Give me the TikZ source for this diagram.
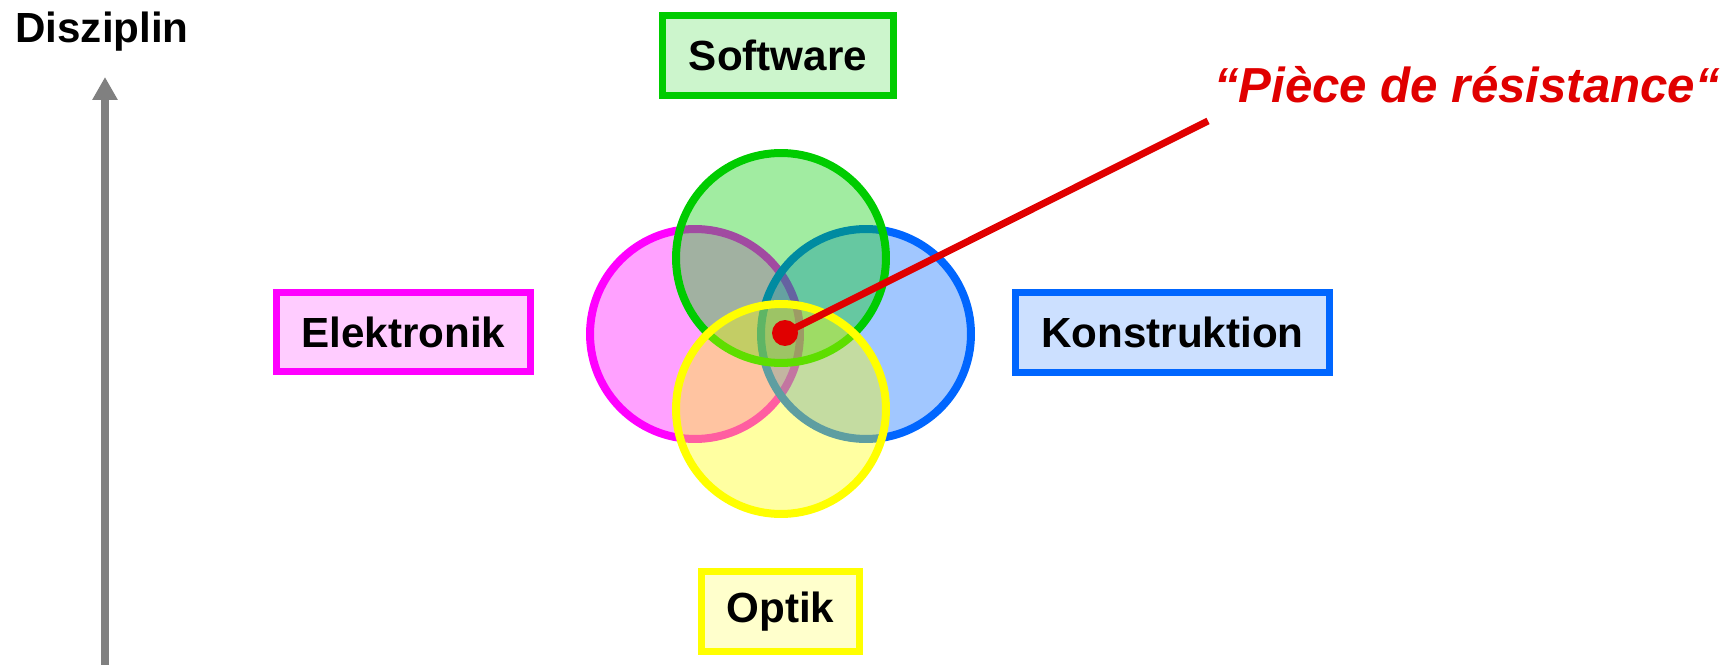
\documentclass[tikz,border=0pt]{standalone}
\usepackage{fontspec}
\setmainfont{Liberation Sans}
\usetikzlibrary{%
  arrows.meta,
  positioning
}

\definecolor{ringmagenta}{HTML}{FF00FF}
\definecolor{ringblue}{HTML}{0066FF}
\definecolor{ringgreen}{HTML}{00CC00}
\definecolor{ringyellow}{HTML}{FFFF00}
\definecolor{pointred}{HTML}{E00000}
\definecolor{axisgray}{HTML}{808080}

\tikzset{
  ring/.style={line width=0.16cm, fill opacity=0.37},
  field/.style={draw=#1, fill=#1!20, line width=0.14cm, inner sep=0pt,
                minimum height=1.6cm,
                font=\fontsize{24}{28}\selectfont\bfseries}
}

\begin{document}
\begin{tikzpicture}[x=0.02cm, y=-0.02cm]
  \useasboundingbox (0,0) rectangle (1730,665);

  % axis
  \node [anchor=base west, inner sep=0pt,
         font=\fontsize{24}{28}\selectfont\bfseries] (axislabel) at (15,43) {Disziplin};
  \coordinate (axisfoot) at (105,665);
  \coordinate (axistip)  at (105,77);
  \draw [axisgray, line width=0.15cm,
         -{Triangle[length=0.46cm, width=0.48cm]}] (axisfoot) -- (axistip);

  % overlapping disciplines
  \draw [ring, draw=ringmagenta, fill=ringmagenta] (695,334) circle [radius=2.1cm];
  \draw [ring, draw=ringblue,    fill=ringblue]    (866,334) circle [radius=2.1cm];
  \draw [ring, draw=ringgreen,   fill=ringgreen]   (781,258) circle [radius=2.1cm];
  \draw [ring, draw=ringyellow,  fill=ringyellow]  (781,409) circle [radius=2.1cm];

  % labels
  \node [field=ringgreen,   minimum width=4.62cm] (software)     at (778,55.5)  {Software};
  \node [field=ringmagenta, minimum width=5.08cm] (elektronik)   at (403.5,332) {Elektronik};
  \node [field=ringblue,    minimum width=6.28cm] (konstruktion) at (1172.5,332.5) {Konstruktion};
  \node [field=ringyellow,  minimum width=3.16cm] (optik)        at (780.5,611.5) {Optik};

  % pointer to the common core
  \node [circle, fill=pointred, inner sep=0pt, minimum size=0.52cm] (core) at (785,333) {};
  \coordinate (pointerend) at (1208,121);
  \draw [pointred, line width=0.14cm] (core.center) -- (pointerend);
  \node [anchor=base, inner sep=0pt, text=pointred,
         font=\fontsize{28}{32}\selectfont\bfseries\itshape] (piece) at (1467,103)
        {“Pièce de résistance“};
\end{tikzpicture}
\end{document}
